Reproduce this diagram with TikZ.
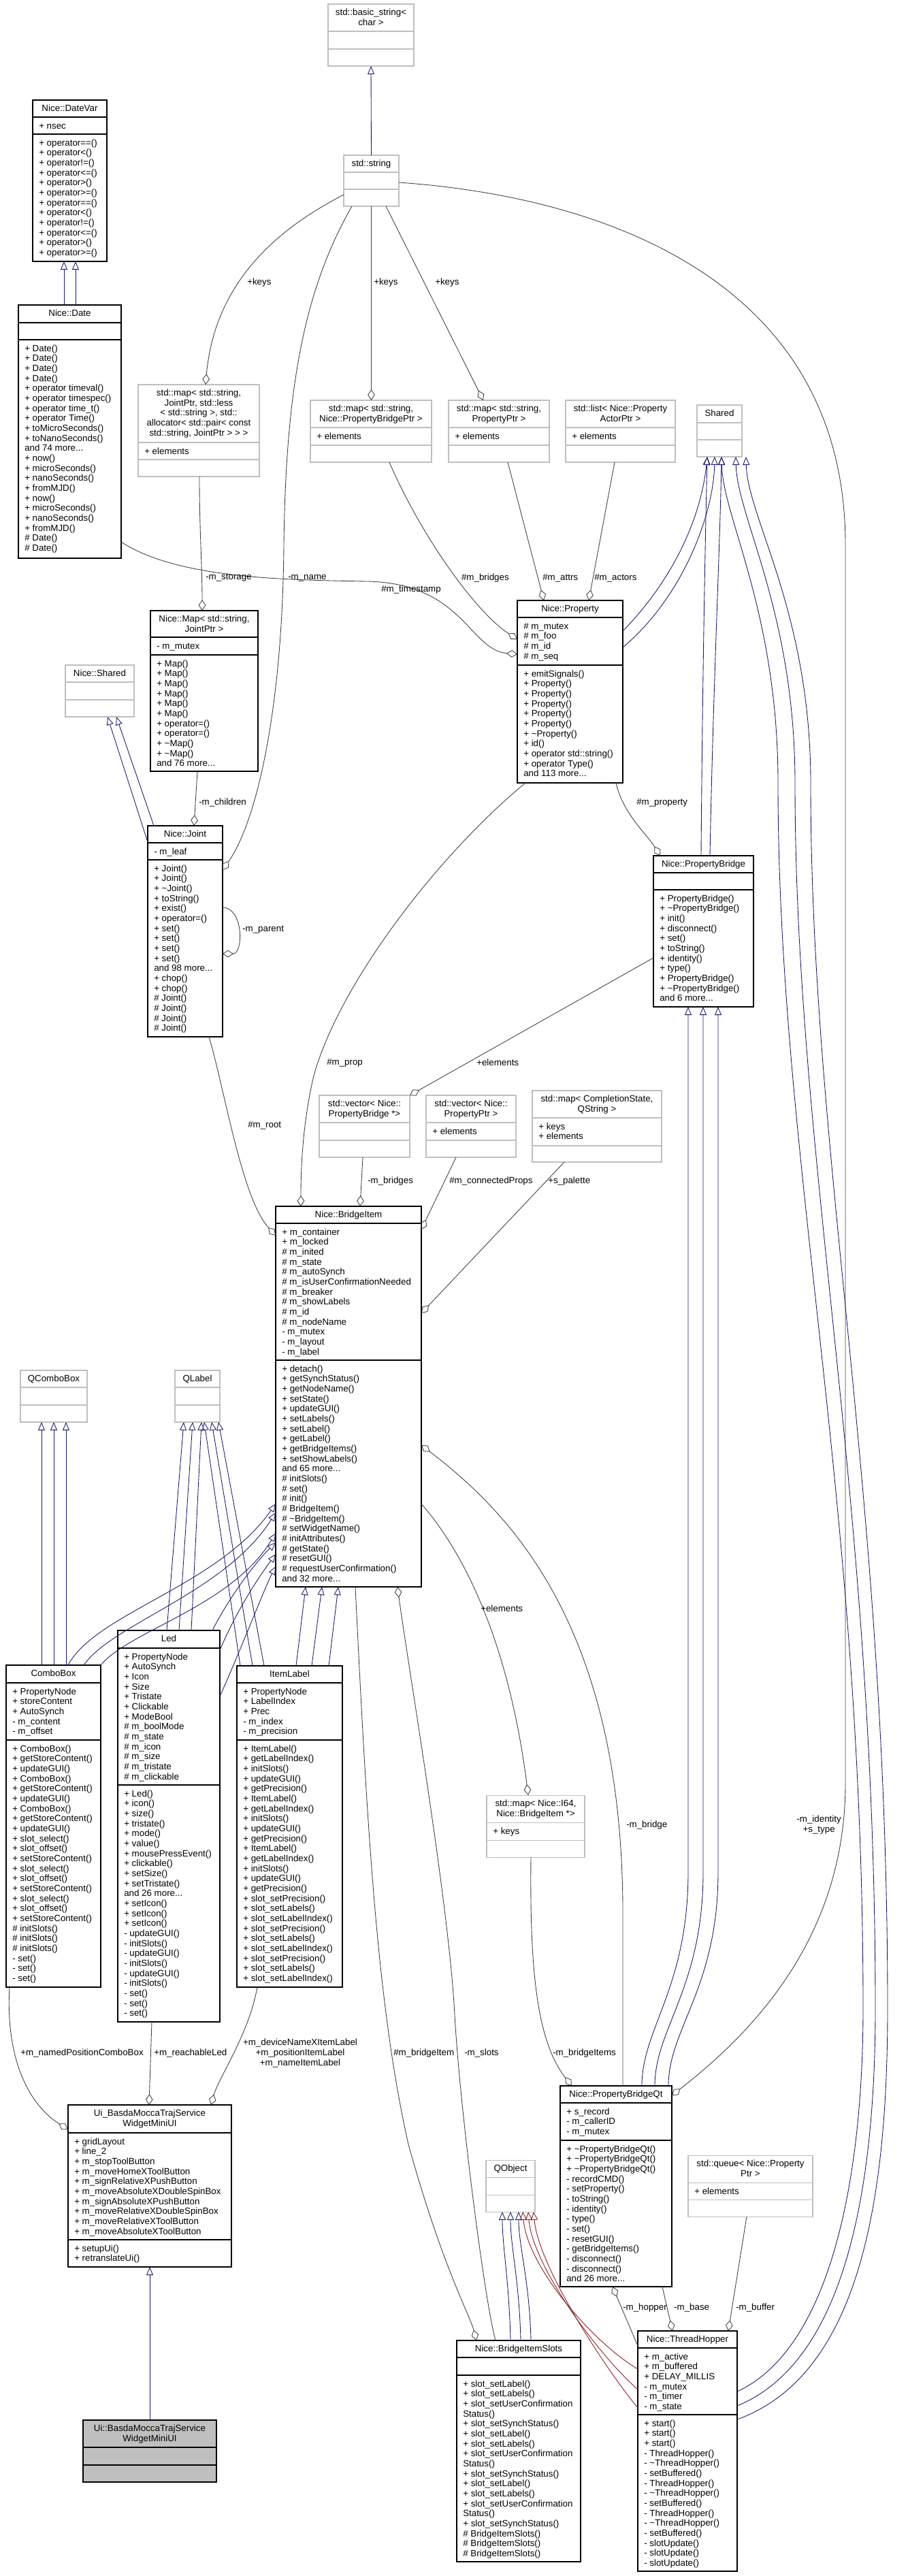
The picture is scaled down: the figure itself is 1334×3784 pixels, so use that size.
\documentclass[tikz,border=0pt]{standalone}
\usepackage{fontspec}
\setmainfont{Liberation Sans}
\usetikzlibrary{arrows.meta}
\definecolor{cInh}{HTML}{191970}
\definecolor{cAgg}{HTML}{404040}
\definecolor{cPrv}{HTML}{8B1A1A}
\definecolor{cGrey}{HTML}{BFBFBF}
\newcommand\tld{\textasciitilde}
\newcommand\mlines[1]{\begin{tabular}[t]{@{}l@{}}#1\end{tabular}}
\newcommand\clines[1]{\begin{tabular}[t]{@{}c@{}}#1\end{tabular}}
\tikzset{
  ext/.style={rectangle, draw=cGrey, line width=0.8pt, fill=white, inner sep=0pt, outer sep=0pt, anchor=north west},
  extdiv/.style={draw=cGrey, line width=0.8pt},
  cls/.style={rectangle, draw=black, line width=0.9pt, fill=white, inner sep=0pt, outer sep=0pt, anchor=north west},
  clsdiv/.style={draw=black, line width=0.9pt},
  doc/.style={rectangle, draw=black, line width=0.9pt, fill=cGrey, inner sep=0pt, outer sep=0pt, anchor=north west},
  docdiv/.style={draw=black, line width=0.9pt},
  hdr/.style={font=\fontsize{10}{11}\selectfont, inner sep=0pt, anchor=base},
  mem/.style={font=\fontsize{10}{11}\selectfont, inner sep=0pt, anchor=base west},
  lbl/.style={font=\fontsize{10}{11}\selectfont, inner sep=0pt},
  inhl/.style={draw=cInh, line width=0.65pt, -{Triangle[open,length=9pt,width=7.5pt]}},
  prvl/.style={draw=cPrv, line width=0.65pt, -{Triangle[open,length=9pt,width=7.5pt]}},
  aggl/.style={draw=cAgg, line width=0.65pt, -{Diamond[open,length=12pt,width=8pt]}},
}
\newcommand\umlbox[8]{%
  \pgfmathsetmacro\bw{(#5-#3)*0.75}%
  \pgfmathsetmacro\bh{(#6-#4)*0.75}%
  \node[#2, minimum width=\bw pt, minimum height=\bh pt] (#1) at (#3,#4) {};%
  \draw[#2div] (#3,#7) -- (#5,#7);%
  \draw[#2div] (#3,#8) -- (#5,#8);%
  \xdef\bxl{#3}\xdef\bxr{#5}\xdef\byt{#4}\xdef\bda{#7}\xdef\bdb{#8}\xdef\bnm{#1}%
}
\newcommand\umltext[3]{%
  \node[hdr] (\bnm-h) at ({(\bxl+\bxr)/2},{\byt+16.5}) {\clines{#1}};%
  \node[mem] (\bnm-a) at ({\bxl+9},{\bda+17}) {\mlines{#2}};%
  \node[mem] (\bnm-m) at ({\bxl+9},{\bdb+17}) {\mlines{#3}};%
}
\begin{document}
\begin{tikzpicture}[x=0.75pt,y=-0.75pt]
\fill[white] (0,0) rectangle (1334,3784);
\useasboundingbox (0,0) rectangle (1334,3784);

% ---------------- boxes ----------------
\umlbox{bstr}{ext}{482}{6}{608}{97}{46}{72}
\umltext{std::basic\_string<\\char >}{}{}
\umlbox{str}{ext}{505}{228}{586}{303}{253}{278}
\umltext{std::string}{}{}
\umlbox{mapJ}{ext}{203}{565}{381}{700}{650}{675}
\umltext{std::map< std::string,\\ JointPtr, std::less\\< std::string >, std::\\allocator< std::pair< const\\ std::string, JointPtr > > >}{+ elements}{}
\umlbox{mapPB}{ext}{456}{588}{634}{679}{628}{654}
\umltext{std::map< std::string,\\ Nice::PropertyBridgePtr >}{+ elements}{}
\umlbox{mapP}{ext}{659}{588}{807}{679}{628}{654}
\umltext{std::map< std::string,\\ PropertyPtr >}{+ elements}{}
\umlbox{lst}{ext}{831}{588}{992}{679}{628}{654}
\umltext{std::list< Nice::Property\\ActorPtr >}{+ elements}{}
\umlbox{shared}{ext}{1024}{595}{1090}{671}{621}{646}
\umltext{Shared}{}{}
\umlbox{dvar}{cls}{48}{147}{157}{384}{172}{197}
\umltext{Nice::DateVar}{+ nsec}{+ operator==()\\+ operator<()\\+ operator!=()\\+ operator<=()\\+ operator>()\\+ operator>=()\\+ operator==()\\+ operator<()\\+ operator!=()\\+ operator<=()\\+ operator>()\\+ operator>=()}
\umlbox{date}{cls}{27}{448}{178}{820}{474}{499}
\umltext{Nice::Date}{}{+ Date()\\+ Date()\\+ Date()\\+ Date()\\+ operator timeval()\\+ operator timespec()\\+ operator time\_t()\\+ operator Time()\\+ toMicroSeconds()\\+ toNanoSeconds()\\and 74 more...\\+ now()\\+ microSeconds()\\+ nanoSeconds()\\+ fromMJD()\\+ now()\\+ microSeconds()\\+ nanoSeconds()\\+ fromMJD()\\\# Date()\\\# Date()}
\umlbox{prop}{cls}{760}{882}{915}{1150}{907}{977}
\umltext{Nice::Property}{\# m\_mutex\\\# m\_foo\\\# m\_id\\\# m\_seq}{+ emitSignals()\\+ Property()\\+ Property()\\+ Property()\\+ Property()\\+ Property()\\+ \tld Property()\\+ id()\\+ operator std::string()\\+ operator Type()\\and 113 more...}
\umlbox{nmap}{cls}{221}{897}{379}{1133}{936}{962}
\umltext{Nice::Map< std::string,\\ JointPtr >}{- m\_mutex}{+ Map()\\+ Map()\\+ Map()\\+ Map()\\+ Map()\\+ Map()\\+ operator=()\\+ operator=()\\+ \tld Map()\\+ \tld Map()\\and 76 more...}
\umlbox{nshared}{ext}{96}{977}{197}{1053}{1002}{1028}
\umltext{Nice::Shared}{}{}
\umlbox{joint}{cls}{217}{1213}{327}{1523}{1238}{1263}
\umltext{Nice::Joint}{- m\_leaf}{+ Joint()\\+ Joint()\\+ \tld Joint()\\+ toString()\\+ exist()\\+ operator=()\\+ set()\\+ set()\\+ set()\\+ set()\\and 98 more...\\+ chop()\\+ chop()\\\# Joint()\\\# Joint()\\\# Joint()\\\# Joint()}
\umlbox{pb}{cls}{960}{1257}{1107}{1479}{1282}{1307}
\umltext{Nice::PropertyBridge}{}{+ PropertyBridge()\\+ \tld PropertyBridge()\\+ init()\\+ disconnect()\\+ set()\\+ toString()\\+ identity()\\+ type()\\+ PropertyBridge()\\+ \tld PropertyBridge()\\and 6 more...}
\umlbox{vecPB}{ext}{469}{1609}{602}{1700}{1649}{1675}
\umltext{std::vector< Nice::\\PropertyBridge *>}{}{}
\umlbox{vecP}{ext}{626}{1609}{758}{1700}{1649}{1675}
\umltext{std::vector< Nice::\\PropertyPtr >}{+ elements}{}
\umlbox{mapCS}{ext}{782}{1602}{972}{1707}{1642}{1683}
\umltext{std::map< CompletionState,\\QString >}{+ keys\\+ elements}{}
\umlbox{bi}{cls}{405}{1772}{619}{2331}{1797}{1998}
\umltext{Nice::BridgeItem}{+ m\_container\\+ m\_locked\\\# m\_inited\\\# m\_state\\\# m\_autoSynch\\\# m\_isUserConfirmationNeeded\\\# m\_breaker\\\# m\_showLabels\\\# m\_id\\\# m\_nodeName\\- m\_mutex\\- m\_layout\\- m\_label}{+ detach()\\+ getSynchStatus()\\+ getNodeName()\\+ setState()\\+ updateGUI()\\+ setLabels()\\+ setLabel()\\+ getLabel()\\+ getBridgeItems()\\+ setShowLabels()\\and 65 more...\\\# initSlots()\\\# set()\\\# init()\\\# BridgeItem()\\\# \tld BridgeItem()\\\# setWidgetName()\\\# initAttributes()\\\# getState()\\\# resetGUI()\\\# requestUserConfirmation()\\and 32 more...}
\umlbox{qcb}{ext}{30}{2013}{128}{2089}{2038}{2064}
\umltext{QComboBox}{}{}
\umlbox{qlbl}{ext}{257}{2013}{323}{2089}{2038}{2064}
\umltext{QLabel}{}{}
\umlbox{cb}{cls}{9}{2446}{148}{2919}{2472}{2556}
\umltext{ComboBox}{+ PropertyNode\\+ storeContent\\+ AutoSynch\\- m\_content\\- m\_offset}{+ ComboBox()\\+ getStoreContent()\\+ updateGUI()\\+ ComboBox()\\+ getStoreContent()\\+ updateGUI()\\+ ComboBox()\\+ getStoreContent()\\+ updateGUI()\\+ slot\_select()\\+ slot\_offset()\\+ setStoreContent()\\+ slot\_select()\\+ slot\_offset()\\+ setStoreContent()\\+ slot\_select()\\+ slot\_offset()\\+ setStoreContent()\\\# initSlots()\\\# initSlots()\\\# initSlots()\\- set()\\- set()\\- set()}
\umlbox{led}{cls}{173}{2395}{323}{2970}{2421}{2622}
\umltext{Led}{+ PropertyNode\\+ AutoSynch\\+ Icon\\+ Size\\+ Tristate\\+ Clickable\\+ ModeBool\\\# m\_boolMode\\\# m\_state\\\# m\_icon\\\# m\_size\\\# m\_tristate\\\# m\_clickable}{+ Led()\\+ icon()\\+ size()\\+ tristate()\\+ mode()\\+ value()\\+ mousePressEvent()\\+ clickable()\\+ setSize()\\+ setTristate()\\and 26 more...\\+ setIcon()\\+ setIcon()\\+ setIcon()\\- updateGUI()\\- initSlots()\\- updateGUI()\\- initSlots()\\- updateGUI()\\- initSlots()\\- set()\\- set()\\- set()}
\umlbox{il}{cls}{348}{2447}{503}{2919}{2472}{2556}
\umltext{ItemLabel}{+ PropertyNode\\+ LabelIndex\\+ Prec\\- m\_index\\- m\_precision}{+ ItemLabel()\\+ getLabelIndex()\\+ initSlots()\\+ updateGUI()\\+ getPrecision()\\+ ItemLabel()\\+ getLabelIndex()\\+ initSlots()\\+ updateGUI()\\+ getPrecision()\\+ ItemLabel()\\+ getLabelIndex()\\+ initSlots()\\+ updateGUI()\\+ getPrecision()\\+ slot\_setPrecision()\\+ slot\_setLabels()\\+ slot\_setLabelIndex()\\+ slot\_setPrecision()\\+ slot\_setLabels()\\+ slot\_setLabelIndex()\\+ slot\_setPrecision()\\+ slot\_setLabels()\\+ slot\_setLabelIndex()}
\umlbox{mapI}{ext}{715}{2637}{859}{2728}{2677}{2703}
\umltext{std::map< Nice::I64,\\ Nice::BridgeItem *>}{+ keys}{}
\umlbox{uiw}{cls}{100}{3092}{340}{3330}{3133}{3290}
\umltext{Ui\_BasdaMoccaTrajService\\WidgetMiniUI}{+ gridLayout\\+ line\_2\\+ m\_stopToolButton\\+ m\_moveHomeXToolButton\\+ m\_signRelativeXPushButton\\+ m\_moveAbsoluteXDoubleSpinBox\\+ m\_signAbsoluteXPushButton\\+ m\_moveRelativeXDoubleSpinBox\\+ m\_moveRelativeXToolButton\\+ m\_moveAbsoluteXToolButton}{+ setupUi()\\+ retranslateUi()}
\umlbox{pbqt}{cls}{823}{3064}{987}{3359}{3089}{3144}
\umltext{Nice::PropertyBridgeQt}{+ s\_record\\- m\_callerID\\- m\_mutex}{+ \tld PropertyBridgeQt()\\+ \tld PropertyBridgeQt()\\+ \tld PropertyBridgeQt()\\- recordCMD()\\- setProperty()\\- toString()\\- identity()\\- type()\\- set()\\- resetGUI()\\- getBridgeItems()\\- disconnect()\\- disconnect()\\and 26 more...}
\umlbox{qobj}{ext}{714}{3173}{786}{3249}{3198}{3224}
\umltext{QObject}{}{}
\umlbox{queue}{ext}{1011}{3166}{1194}{3256}{3206}{3231}
\umltext{std::queue< Nice::Property\\Ptr >}{+ elements}{}
\umlbox{th}{cls}{937}{3424}{1083}{3777}{3449}{3547}
\umltext{Nice::ThreadHopper}{+ m\_active\\+ m\_buffered\\+ DELAY\_MILLIS\\- m\_mutex\\- m\_timer\\- m\_state}{+ start()\\+ start()\\+ start()\\- ThreadHopper()\\- \tld ThreadHopper()\\- setBuffered()\\- ThreadHopper()\\- \tld ThreadHopper()\\- setBuffered()\\- ThreadHopper()\\- \tld ThreadHopper()\\- setBuffered()\\- slotUpdate()\\- slotUpdate()\\- slotUpdate()}
\umlbox{bis}{cls}{671}{3438}{853}{3763}{3463}{3489}
\umltext{Nice::BridgeItemSlots}{}{+ slot\_setLabel()\\+ slot\_setLabels()\\+ slot\_setUserConfirmation\\Status()\\+ slot\_setSynchStatus()\\+ slot\_setLabel()\\+ slot\_setLabels()\\+ slot\_setUserConfirmation\\Status()\\+ slot\_setSynchStatus()\\+ slot\_setLabel()\\+ slot\_setLabels()\\+ slot\_setUserConfirmation\\Status()\\+ slot\_setSynchStatus()\\\# BridgeItemSlots()\\\# BridgeItemSlots()\\\# BridgeItemSlots()}
\umlbox{ui}{doc}{122}{3555}{318}{3646}{3595}{3621}
\umltext{Ui::BasdaMoccaTrajService\\WidgetMiniUI}{}{}

% ---------------- inheritance ----------------
\draw[inhl] (str.north) -- (bstr.south);
\draw[inhl] (date.north -| 94,0) -- (dvar.south -| 94,0);
\draw[inhl] (date.north -| 111,0) -- (dvar.south -| 111,0);
\draw[inhl] (joint.west |- 0,1237) -- (nshared.south -| 158,0);
\draw[inhl] (joint.north -| 226,0) -- (nshared.south -| 171,0);
\draw[inhl] (prop.east |- 0,927) .. controls (990,850) and (1030,760) .. (shared.south -| 1039,0);
\draw[inhl] (prop.east |- 0,951) .. controls (1000,880) and (1048,760) .. (shared.south -| 1050,0);
\draw[inhl] (pb.north -| 1030,0) .. controls (1032,1000) and (1036,800) .. (shared.south -| 1039,0);
\draw[inhl] (pb.north -| 1043,0) .. controls (1048,1000) and (1058,800) .. (shared.south -| 1060,0);
\draw[inhl] (th.east |- 0,3513) .. controls (1220,3450) and (1268,3200) .. (1268,2950) .. controls (1268,2200) and (1143,1700) .. (1143,1150) .. controls (1143,900) and (1062,760) .. (shared.south -| 1060,0);
\draw[inhl] (th.east |- 0,3534) .. controls (1240,3470) and (1286,3220) .. (1286,2950) .. controls (1286,2200) and (1168,1700) .. (1168,1150) .. controls (1168,900) and (1083,760) .. (shared.south -| 1081,0);
\draw[inhl] (th.east |- 0,3554) .. controls (1260,3490) and (1304,3240) .. (1304,2950) .. controls (1304,2200) and (1191,1700) .. (1191,1150) .. controls (1191,900) and (1098,760) .. (shared.south -| 1096,0);
\draw[inhl] (pbqt.north -| 943,0) .. controls (943,2980) and (1011,2920) .. (1011,2750) -- (pb.south -| 1011,0);
\draw[inhl] (pbqt.north -| 962,0) .. controls (962,2980) and (1033,2920) .. (1033,2750) -- (pb.south -| 1033,0);
\draw[inhl] (pbqt.north -| 982,0) .. controls (982,2980) and (1055,2920) .. (1055,2750) -- (pb.south -| 1055,0);
\draw[inhl] (cb.north -| 61,0) -- (qcb.south -| 61,0);
\draw[inhl] (cb.north -| 79,0) -- (qcb.south -| 79,0);
\draw[inhl] (cb.north -| 97,0) -- (qcb.south -| 97,0);
\draw[inhl] (led.north -| 245,0) -- (qlbl.south -| 270,0);
\draw[inhl] (led.north -| 263,0) -- (qlbl.south -| 283,0);
\draw[inhl] (led.north -| 281,0) -- (qlbl.south -| 296,0);
\draw[inhl] (il.north -| 353,0) -- (qlbl.south -| 300,0);
\draw[inhl] (il.north -| 371,0) -- (qlbl.south -| 311,0);
\draw[inhl] (il.north -| 388,0) -- (qlbl.south -| 321,0);
\draw[inhl] (cb.north -| 100,0) .. controls (140,2370) and (320,2330) .. (bi.west |- 0,2209);
\draw[inhl] (cb.north -| 123,0) .. controls (165,2385) and (330,2340) .. (bi.west |- 0,2222);
\draw[inhl] (cb.north -| 148,0) .. controls (190,2395) and (340,2360) .. (bi.west |- 0,2252);
\draw[inhl] (led.north -| 312,0) .. controls (340,2340) and (380,2290) .. (bi.west |- 0,2266);
\draw[inhl] (led.east |- 0,2424) .. controls (350,2360) and (385,2310) .. (bi.west |- 0,2283);
\draw[inhl] (led.east |- 0,2492) .. controls (355,2420) and (390,2330) .. (bi.west |- 0,2301);
\draw[inhl] (il.north -| 435,0) -- (bi.south -| 449,0);
\draw[inhl] (il.north -| 458,0) -- (bi.south -| 473,0);
\draw[inhl] (il.north -| 483,0) -- (bi.south -| 497,0);
\draw[inhl] (bis.north -| 750,0) .. controls (748,3350) and (738,3300) .. (qobj.south -| 738,0);
\draw[inhl] (bis.north -| 765,0) .. controls (763,3350) and (750,3300) .. (qobj.south -| 750,0);
\draw[inhl] (bis.north -| 780,0) .. controls (778,3350) and (762,3300) .. (qobj.south -| 762,0);
\draw[prvl] (th.west |- 0,3480) .. controls (870,3440) and (775,3330) .. (qobj.south -| 768,0);
\draw[prvl] (th.west |- 0,3510) .. controls (880,3460) and (783,3330) .. (qobj.south -| 776,0);
\draw[prvl] (th.west |- 0,3537) .. controls (890,3480) and (791,3330) .. (qobj.south -| 784,0);
\draw[inhl] (ui.north) -- (uiw.south -| ui.north);

% ---------------- aggregations ----------------
\draw[aggl] (str.west |- 0,286) .. controls (400,340) and (315,420) .. (mapJ.north -| 302,0);
\draw[aggl] (str.south) -- (mapPB.north -| str.south);
\draw[aggl] (str.south -| 567,0) -- (mapP.north -| 710,0);
\draw[aggl] (str.south -| 517,0) .. controls (450,420) and (420,560) .. (417,800) .. controls (415,1050) and (375,1210) .. (joint.east |- 0,1278);
\draw[aggl] (str.east |- 0,268) .. controls (900,290) and (1242,420) .. (1242,800) -- (1242,2620) .. controls (1242,2850) and (1100,2990) .. (pbqt.east |- 0,3078);
\draw[aggl] (mapJ.south -| 293,0) .. controls (293,780) and (297,830) .. (nmap.north -| 297,0);
\draw[aggl] (nmap.south -| 290,0) -- (joint.north -| 285,0);
\draw[aggl] (joint.east |- 0,1333) .. controls (358,1333) and (358,1401) .. (joint.east |- 0,1401);
\draw[aggl] (date.east |- 0,796) .. controls (260,850) and (420,852) .. (540,854) .. controls (680,857) and (690,955) .. (prop.west |- 0,961);
\draw[aggl] (mapPB.south -| 572,0) .. controls (620,790) and (700,900) .. (prop.west |- 0,939);
\draw[aggl] (mapP.south -| 746,0) -- (prop.north -| 799,0);
\draw[aggl] (lst.south -| 903,0) -- (prop.north -| 865,0);
\draw[aggl] (prop.south -| 905,0) .. controls (915,1195) and (950,1225) .. (pb.north -| 970,0);
\draw[aggl] (prop.south -| 772,0) .. controls (650,1250) and (500,1440) .. (461,1580) .. controls (447,1640) and (442,1700) .. (bi.north -| 442,0);
\draw[aggl] (joint.south -| 307,0) .. controls (330,1600) and (355,1760) .. (bi.west |- 0,1815);
\draw[aggl] (vecPB.south -| 533,0) -- (bi.north -| 529,0);
\draw[aggl] (pb.west |- 0,1407) -- (vecPB.north east);
\draw[aggl] (vecP.south -| 670,0) -- (bi.east |- 0,1806);
\draw[aggl] (mapCS.south -| 829,0) -- (bi.east |- 0,1929);
\draw[aggl] (bi.east |- 0,2209) .. controls (690,2290) and (750,2430) .. (mapI.north -| 776,0);
\draw[aggl] (pbqt.north -| 915,0) -- (915,2800) .. controls (912,2400) and (760,2230) .. (bi.east |- 0,2123);
\draw[aggl] (mapI.south -| 780,0) .. controls (778,2900) and (790,3000) .. (pbqt.north -| 840,0);
\draw[aggl] (bi.south -| 522,0) .. controls (540,2700) and (555,2950) .. (600,3150) .. controls (650,3330) and (690,3400) .. (bis.north -| 700,0);
\draw[aggl] (bis.north -| 728,0) .. controls (712,3380) and (676,3100) .. (668,2960) .. controls (660,2800) and (600,2450) .. (bi.south -| 584,0);
\draw[aggl] (cb.south -| 14,0) .. controls (8,3020) and (40,3090) .. (uiw.west |- 0,3128);
\draw[aggl] (led.south -| 223,0) -- (uiw.north -| 219,0);
\draw[aggl] (il.south -| 378,0) .. controls (365,2990) and (322,3050) .. (uiw.north -| 310,0);
\draw[aggl] (th.west |- 0,3446) -- (pbqt.south -| 900,0);
\draw[aggl] (pbqt.south -| 973,0) -- (th.north -| 988,0);
\draw[aggl] (queue.south -| 1097,0) -- (th.north -| 1070,0);

% ---------------- labels ----------------
\node[lbl, anchor=west] (l1) at (363,415) {+keys};
\node[lbl, anchor=west] (l2) at (549,415) {+keys};
\node[lbl, anchor=west] (l3) at (639,415) {+keys};
\node[lbl, anchor=west] (l4) at (423,849) {-m\_name};
\node[lbl, anchor=west] (l5) at (302,849) {-m\_storage};
\node[lbl, anchor=east] (l6) at (648,866) {\#m\_timestamp};
\node[lbl, anchor=east] (l7) at (748,849) {\#m\_bridges};
\node[lbl, anchor=west] (l8) at (797,849) {\#m\_attrs};
\node[lbl, anchor=west] (l9) at (873,849) {\#m\_actors};
\node[lbl, anchor=west] (l10) at (935,1179) {\#m\_property};
\node[lbl, anchor=west] (l11) at (292,1179) {-m\_children};
\node[lbl, anchor=west] (l12) at (356,1366) {-m\_parent};
\node[lbl, anchor=west] (l13) at (364,1653) {\#m\_root};
\node[lbl, anchor=west] (l14) at (480,1561) {\#m\_prop};
\node[lbl, anchor=west] (l15) at (700,1561) {+elements};
\node[lbl, anchor=west] (l16) at (540,1735) {-m\_bridges};
\node[lbl, anchor=west] (l17) at (660,1735) {\#m\_connectedProps};
\node[lbl, anchor=west] (l18) at (805,1735) {+s\_palette};
\node[lbl, anchor=west] (l19) at (706,2363) {+elements};
\node[lbl, anchor=west] (l20) at (920,2681) {-m\_bridge};
\node[lbl, anchor=east] (l21) at (1236,2681) {\clines{-m\_identity\\+s\_type}};
\node[lbl, anchor=west] (l22) at (812,3016) {-m\_bridgeItems};
\node[lbl, anchor=west] (l23) at (578,3016) {\#m\_bridgeItem};
\node[lbl, anchor=west] (l24) at (682,3016) {-m\_slots};
\node[lbl, anchor=west] (l25) at (30,3016) {+m\_namedPositionComboBox};
\node[lbl, anchor=west] (l26) at (226,3016) {+m\_reachableLed};
\node[lbl, align=center] (l27) at (441,3016) {+m\_deviceNameXItemLabel\\+m\_positionItemLabel\\+m\_nameItemLabel};
\node[lbl, anchor=east] (l28) at (980,3390) {-m\_hopper};
\node[lbl, anchor=west] (l29) at (990,3390) {-m\_base};
\node[lbl, anchor=west] (l30) at (1081,3390) {-m\_buffer};
\end{tikzpicture}
\end{document}
